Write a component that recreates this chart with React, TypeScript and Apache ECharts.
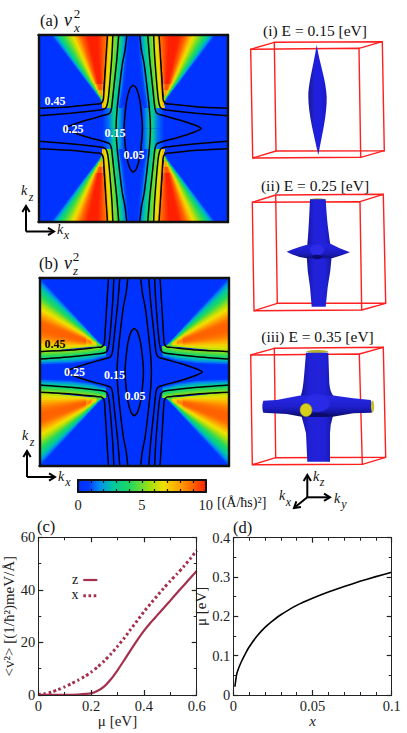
import React, { useEffect, useRef } from "react";
import * as echarts from "echarts";

const SERIF = "'Liberation Serif', serif";

// --- value colour scale (colour bar) ---
const scaleValues = [0, 0.8, 1.7, 2.75, 4.05, 5.6, 6.7, 8, 9.3, 10];
const scaleColors = ["#0030ff", "#0038ff", "#0090f0", "#00c8a0", "#20d860", "#a0e010", "#f0e000", "#ffa000", "#ff5000", "#ff2000"];
const barTicks = ["0", "5", "10"];

// --- iso-energy contours, one quadrant, (|kx|, |kz|) ---
const contour005 = [[0, 0.465], [0.034, 0.43], [0.068, 0.305], [0.09, 0.12], [0.097, 0]];
const contour015 = [[0.068, 1], [0.086, 0.84], [0.114, 0.697], [0.145, 0.447], [0.174, 0.163], [0.181, 0]];
const contour025 = [[0.153, 1], [0.174, 0.733], [0.208, 0.412], [0.229, 0.216], [0.25, 0.163], [0.297, 0.144], [0.489, 0.091], [0.647, 0.037], [0.718, 0]];
const contour035 = [[0.215, 1], [0.226, 0.768], [0.261, 0.34], [0.279, 0.24], [0.303, 0.209], [0.349, 0.198], [0.665, 0.163], [1, 0.137]];
const contour045 = [[0.272, 1], [0.289, 0.733], [0.314, 0.323], [0.324, 0.287], [0.349, 0.265], [0.384, 0.262], [0.665, 0.233], [1, 0.216]];

// --- v^2 intensity ---
const fanA = [8.8, 9, 9.3, 9.6, 9.8, 10, 10, 10, 10, 10, 9.9, 9.6, 9.3, 9, 8.5, 8, 7.4, 6.8, 6.3, 5.8, 5.3, 4.8, 4.4, 4, 3.4, 2.8, 2.2, 1.6, 0.9, 0.3];
const ribbonA = [0.5, 1, 1.6, 2.3, 3, 3.6, 4.2, 4.8, 5.4, 6, 6.8, 7.6];
const ribbonALevels = [1, 0.73, 0.45, 0.3, 0.22];
const ribbonAInner = [0.03, 0.05, 0.08, 0.105, 0.115];
const ribbonAOuter = [0.272, 0.289, 0.305, 0.318, 0.33];
const fanB = [6, 6.5, 7, 7.5, 8, 8.4, 8.7, 8.9, 9, 9, 9, 8.9, 8.6, 8.2, 7.7, 7.2, 6.7, 6.3, 5.8, 5.2, 4.7, 4.2, 3.8, 3.3, 2.8, 2.3, 1.8, 1.3, 0.8, 0.4];
const ribbonB = [0.3, 0.8, 1.4, 2, 2.6, 3.2, 3.8, 4.3, 4.8, 5.3];
const ribbonBLevels = [1, 0.665, 0.45, 0.36, 0.3];
const ribbonBInner = [0.05, 0.06, 0.09, 0.12, 0.13];
const ribbonBOuter = [0.216, 0.233, 0.255, 0.27, 0.275];
const apexFadeReach = [0.26, 0.17, 0.09];
const apexFadeGain = [0.92, 0.78, 0.55];

// --- panel (c), (d) ---
const muZ = [0, 0.05, 0.1, 0.15, 0.2, 0.225, 0.25, 0.275, 0.3, 0.325, 0.35, 0.375, 0.4, 0.425, 0.45, 0.475, 0.5, 0.525, 0.55, 0.575, 0.6];
const v2z = [0.1, 0.1, 0.1, 0.2, 0.6, 1.6, 3.3, 6, 9.4, 13.2, 17.1, 20.9, 24.4, 27.5, 30.3, 33.1, 35.9, 38.8, 41.6, 44.4, 47.2];
const muX = [0, 0.025, 0.05, 0.075, 0.1, 0.125, 0.15, 0.175, 0.2, 0.225, 0.25, 0.275, 0.3, 0.325, 0.35, 0.375, 0.4, 0.425, 0.45, 0.475, 0.5, 0.525, 0.55, 0.575, 0.6];
const v2x = [0.2, 0.5, 1.1, 2, 3.1, 4.3, 5.6, 7, 8.7, 10.7, 13, 15.6, 18.5, 21.6, 25, 28.3, 31.7, 34.7, 37.7, 40.6, 43.4, 46, 48.8, 51.8, 55];
const dopingX = [0.001, 0.002, 0.003, 0.005, 0.0075, 0.01, 0.015, 0.02, 0.025, 0.03, 0.04, 0.05, 0.06, 0.07, 0.08, 0.09, 0.1];
const muD = [0.021, 0.05, 0.064, 0.084, 0.104, 0.122, 0.15, 0.172, 0.189, 0.204, 0.228, 0.246, 0.262, 0.276, 0.289, 0.301, 0.312];

const hex = (c: string) => [1, 3, 5].map((i) => parseInt(c.slice(i, i + 2), 16));
function valueColor(v: number) {
  for (let i = 1; i < scaleValues.length; i++) {
    if (v <= scaleValues[i]) {
      const t = (v - scaleValues[i - 1]) / (scaleValues[i] - scaleValues[i - 1]);
      const a = hex(scaleColors[i - 1]);
      const b = hex(scaleColors[i]);
      return `rgb(${a.map((x, k) => Math.round(x + (b[k] - x) * t)).join(",")})`;
    }
  }
  return scaleColors[scaleColors.length - 1];
}

type Poly = { pts: number[][]; fill: any };
const SIGNS = [[1, 1], [-1, 1], [1, -1], [-1, -1]];

// Each slice reaches under the next one, so neighbouring slices leave no seam.
function fanPolys(apex: number[], rim: number[][], values: number[]): Poly[] {
  const out: Poly[] = [];
  const end = (i: number) => rim[Math.min(i + 2, rim.length - 1)];
  values.forEach((v, i) => out.push({ pts: [apex, rim[i], end(i)], fill: valueColor(v) }));
  apexFadeReach.forEach((f, k) => {
    const at = (p: number[]) => [apex[0] + (p[0] - apex[0]) * f, apex[1] + (p[1] - apex[1]) * f];
    values.forEach((v, i) => out.push({ pts: [apex, at(rim[i]), at(end(i))], fill: valueColor(v * apexFadeGain[k]) }));
  });
  return out;
}

function polysA(): Poly[] {
  const out: Poly[] = [];
  const x0 = 0.272, x1 = 0.893;
  const stops = [[0, 0.3], [0.2, 1.8], [0.35, 3.3], [0.5, 3], [0.7, 1.4], [1, 0]];
  for (const [sx, sy] of SIGNS) {
    const ordered = sx > 0 ? stops : stops.map(([o, v]) => [1 - o, v]).reverse();
    const patch = new echarts.graphic.LinearGradient(0, 0, 1, 0, ordered.map(([o, v]) => ({ offset: o, color: valueColor(v) })));
    out.push({ pts: [[0.09, 0.24], [0.33, 0.24], [0.33, 0], [0.09, 0]].map(([x, y]) => [x * sx, y * sy]), fill: patch });
    const outer = ribbonALevels.map((y, k) => [ribbonAOuter[k] * sx, y * sy]);
    ribbonA.forEach((v, i) => {
      const t = i / ribbonA.length;
      const a = ribbonALevels.map((y, k) => [(ribbonAInner[k] + (ribbonAOuter[k] - ribbonAInner[k]) * t) * sx, y * sy]);
      out.push({ pts: [...a, ...outer.slice().reverse()], fill: valueColor(v) });
    });
    const rim = fanA.map((_, i) => [(x0 + ((x1 - x0) * i) / fanA.length) * sx, sy]);
    rim.push([x1 * sx, sy]);
    out.push(...fanPolys([0.33 * sx, 0.287 * sy], rim, fanA));
  }
  return out;
}

function polysB(): Poly[] {
  const out: Poly[] = [];
  const y0 = 0.216, y1 = 1.05;
  for (const [sx, sy] of SIGNS) {
    const outer = ribbonBLevels.map((x, k) => [x * sx, ribbonBOuter[k] * sy]);
    ribbonB.forEach((v, i) => {
      const t = i / ribbonB.length;
      const a = ribbonBLevels.map((x, k) => [x * sx, (ribbonBInner[k] + (ribbonBOuter[k] - ribbonBInner[k]) * t) * sy]);
      out.push({ pts: [...a, ...outer.slice().reverse()], fill: valueColor(v) });
    });
    const rim = fanB.map((_, i) => [sx, (y0 + ((y1 - y0) * i) / fanB.length) * sy]);
    rim.push([sx, y1 * sy]);
    out.push(...fanPolys([0.335 * sx, 0.28 * sy], rim, fanB));
  }
  return out;
}

const GAP = ["-", "-"];
const mir = (p: number[][], sx: number, sy: number) => p.map(([x, y]) => [x * sx, y * sy]);
const through = (p: number[][], sx: number) => [...mir(p, sx, 1), ...mir(p, sx, -1).reverse().slice(1)];
function contourLines(xi: number) {
  const lens = [...through(contour005, 1), ...through(contour005, -1).reverse().slice(1)];
  const open = [contour015, contour025].flatMap((c) => [...through(c, 1), GAP, ...through(c, -1), GAP]);
  const quad = [contour035, contour045].flatMap((c) => SIGNS.flatMap(([sx, sy]) => [...mir(c, sx, sy), GAP]));
  return [lens, open, quad].map((data) => ({
    type: "line", xAxisIndex: xi, yAxisIndex: xi, data, smooth: 0.2, showSymbol: false, silent: true, z: 3,
    lineStyle: { color: "#000", width: 1.5 },
  }));
}

function polySeries(polys: Poly[], xi: number) {
  return {
    type: "custom", coordinateSystem: "cartesian2d", xAxisIndex: xi, yAxisIndex: xi, clip: true, silent: true, z: 2,
    data: polys.map(() => [0, 0]),
    renderItem: (p: any, api: any) => {
      const poly = polys[p.dataIndex];
      return {
        type: "polygon",
        shape: { points: poly.pts.map((q) => api.coord(q)) },
        style: { fill: poly.fill, stroke: "none" },
      };
    },
  };
}

// --- Fermi surface outlines ---
const shapes: Record<string, string> = {
  fsLens: "M316.7 45 C313 68 308 84 308.3 97 C308.5 115 314 135 318.3 155 C322 135 327 115 326.7 97 C326 80 320 65 316.7 45 Z",
  fsBody2: "M310 199.3 L325.7 199.3 Q327 222 328.6 232 Q330 245 332 252 Q331 270 327.7 287 L325.7 306.7 L311.7 306.7 L310 287 Q307 270 306.5 252 Q308 240 309 220 Z",
  fsArm2: "M286.7 251.7 Q298 247 306 245 L330 243.5 Q340 249 350 252.3 Q340 256 332 258.3 L306.7 258.3 Q296 257 286.7 251.7 Z",
  fsBody3: "M306 352.7 L328.3 352.7 L329.3 383 Q330 392 333.5 396 L332.7 417 Q330 425 330 433.3 L330 461.7 L307.3 461.7 L306 433.3 Q304 425 301.7 417 L301 395 Q303 390 304.3 373.3 Z",
  fsArm3: "M263.3 400.7 L276.7 400 L300 395.5 L333.3 395.5 L353.3 398.3 L370.7 400 Q373.5 406.7 371.7 412.7 L353.3 413.3 L332.7 416.7 L301.7 416.7 L286.7 414 L263.3 412.7 Q261.3 406.7 263.3 400.7 Z",
};
Object.entries(shapes).forEach(([k, d]) => echarts.graphic.registerShape(k, echarts.graphic.extendPath(d, {})));

const RED = "#ff1f1f";
function box(front: number[][], back: number[][]) {
  const s = { fill: "none", stroke: RED, lineWidth: 1.4 };
  return [
    { type: "polygon", shape: { points: back }, style: s },
    { type: "polygon", shape: { points: front }, style: s },
    ...front.map((p, i) => ({ type: "line", shape: { x1: p[0], y1: p[1], x2: back[i][0], y2: back[i][1] }, style: s })),
  ];
}

function txt(text: string, x: number, y: number, size: number, extra: any = {}) {
  const { fill, weight, italic, align } = extra;
  return {
    type: "text", x, y, z: 20,
    style: {
      text, fill: fill || "#111", textAlign: align || "center", textVerticalAlign: "middle",
      font: `${italic ? "italic " : ""}${weight || "normal"} ${size}px ${SERIF}`,
    },
  };
}

function arrow(x1: number, y1: number, x2: number, y2: number) {
  const a = Math.atan2(y2 - y1, x2 - x1), L = 7, w = 0.55;
  const s = { stroke: "#000", lineWidth: 2, fill: "none" };
  return [
    { type: "line", z: 20, shape: { x1, y1, x2, y2 }, style: s },
    {
      type: "polyline", z: 20,
      shape: { points: [[x2 - L * Math.cos(a - w), y2 - L * Math.sin(a - w)], [x2, y2], [x2 - L * Math.cos(a + w), y2 - L * Math.sin(a + w)]] },
      style: s,
    },
  ];
}

function gradH(stops: string[]) {
  return new echarts.graphic.LinearGradient(0, 0, 1, 0, stops.map((color, i) => ({ offset: i / (stops.length - 1), color })));
}
function gradV(stops: string[]) {
  return new echarts.graphic.LinearGradient(0, 0, 0, 1, stops.map((color, i) => ({ offset: i / (stops.length - 1), color })));
}

const WINE = "#a5304e";

function graphics() {
  const bodyFill = () => gradH(["#14149c", "#2020d4", "#2222dc", "#2020d4", "#16169e"]);
  const els: any[] = [
    // panel labels
    txt("(a)", 40, 20, 16.5, { align: "left" }), txt("v", 68, 20, 18, { italic: true }), txt("2", 77, 13, 13), txt("x", 77, 27, 13, { italic: true }),
    txt("(b)", 39, 263, 16.5, { align: "left" }), txt("v", 68, 263, 18, { italic: true }), txt("2", 76, 256.5, 13), txt("z", 75.5, 270.5, 13, { italic: true }),
    txt("(c)", 37, 526, 16.5, { align: "left" }), txt("(d)", 233, 527, 16.5, { align: "left" }),
    // legend of (c)
    txt("z", 75, 579, 14), txt("x", 75, 594, 14),
    { type: "line", z: 20, shape: { x1: 83.3, y1: 580, x2: 97.3, y2: 580 }, style: { stroke: WINE, lineWidth: 2.2 } },
    { type: "line", z: 20, shape: { x1: 83.3, y1: 595.7, x2: 97.3, y2: 595.7 }, style: { stroke: WINE, lineWidth: 3, lineDash: [2.6, 2.6] } },
    // contour labels
    txt("0.45", 55, 101, 12, { fill: "#fff", weight: "bold" }), txt("0.25", 73, 128.5, 12, { fill: "#fff", weight: "bold" }),
    txt("0.15", 115, 132.5, 12, { fill: "#fff", weight: "bold" }), txt("0.05", 134, 155, 12, { fill: "#fff", weight: "bold" }),
    txt("0.45", 55, 344, 12, { fill: "#000", weight: "bold" }), txt("0.25", 74.5, 371.5, 12, { fill: "#fff", weight: "bold" }),
    txt("0.15", 114.5, 375, 12, { fill: "#fff", weight: "bold" }), txt("0.05", 135, 396, 12, { fill: "#fff", weight: "bold" }),
    // in-plane axes
    ...arrow(26, 231.5, 26, 206), ...arrow(26, 231.5, 54, 231.5),
    txt("k", 24, 190, 14, { italic: true }), txt("z", 31, 197, 12, { italic: true }), txt("k", 60, 229, 14, { italic: true }), txt("x", 66.5, 235, 12, { italic: true }),
    ...arrow(27, 477, 27, 451), ...arrow(27, 477, 55, 477),
    txt("k", 25, 435, 14, { italic: true }), txt("z", 32, 442, 12, { italic: true }), txt("k", 61, 476, 14, { italic: true }), txt("x", 68, 482, 12, { italic: true }),
    // colour bar unit
    txt("[(Å/ħs)²]", 217, 502, 14, { align: "left" }),
    // right column titles
    txt("(i) E = 0.15 [eV]", 315, 30, 15.5), txt("(ii) E = 0.25 [eV]", 315, 185, 15.5), txt("(iii) E = 0.35 [eV]", 317.5, 336.7, 15.5),
    // boxes
    ...box([[250.7, 49.3], [359, 48.3], [360.7, 157.3], [252.7, 158]], [[274.3, 42.3], [382.3, 41.7], [384.3, 150.7], [276, 151]]),
    ...box([[252.3, 202.3], [360, 201.7], [361.7, 310], [254, 310.7]], [[275.7, 195], [383.3, 194.3], [385.7, 303.3], [277.3, 303.3]]),
    ...box([[250.7, 355], [359.3, 354], [362.3, 464.3], [252.3, 464.7]], [[274.3, 348.3], [383.3, 347.3], [385.7, 457.3], [275.7, 457.7]]),
    // (i)
    { type: "fsLens", z: 10, style: { fill: gradH(["#1a1a90", "#2020d8", "#1e1ee0", "#1a1ac0"]) } },
    // (ii)
    { type: "ellipse", z: 10, shape: { cx: 317.8, cy: 199.6, rx: 7.5, ry: 1.2 }, style: { fill: "#8a8a20" } },
    { type: "fsBody2", z: 10, style: { fill: bodyFill() } },
    { type: "fsArm2", z: 11, style: { fill: gradV(["#2424e0", "#2020d4", "#1c1cc0", "#10107a"]) } },
    { type: "ellipse", z: 12, shape: { cx: 317, cy: 250, rx: 7, ry: 5.5 }, style: { fill: "#2c2ce8" } },
    { type: "ellipse", z: 12, shape: { cx: 317, cy: 257, rx: 5, ry: 2.2 }, style: { fill: "#0c0c70" } },
    // (iii)
    { type: "ellipse", z: 10, shape: { cx: 317.2, cy: 351.5, rx: 11, ry: 1.6 }, style: { fill: "#b8b030" } },
    { type: "fsBody3", z: 10, style: { fill: bodyFill() } },
    { type: "fsArm3", z: 11, style: { fill: gradV(["#2626e0", "#2222d8", "#2020d0", "#1616a8", "#0a0a60"]) } },
    { type: "ellipse", z: 12, shape: { cx: 372.6, cy: 406.5, rx: 1.6, ry: 6 }, style: { fill: "#c8c020" } },
    { type: "ellipse", z: 12, shape: { cx: 317, cy: 403, rx: 13, ry: 9 }, style: { fill: "#2a2ae6" } },
    { type: "ellipse", z: 12, shape: { cx: 317, cy: 415, rx: 12, ry: 2 }, style: { fill: "#0c0c68" } },
    { type: "ellipse", z: 13, shape: { cx: 306, cy: 410, rx: 6, ry: 6.6 }, style: { fill: "#d8d018", stroke: "#8a8a30", lineWidth: 0.6 } },
    // 3D triad
    ...arrow(307.3, 497.3, 307.3, 475), ...arrow(307.3, 497.3, 330, 497.3), ...arrow(307.3, 497.3, 294, 508),
    txt("k", 316, 476, 14, { italic: true }), txt("z", 322, 482, 12, { italic: true }),
    txt("k", 337, 498, 14, { italic: true }), txt("y", 344, 504, 12, { italic: true }),
    txt("k", 282, 495, 14, { italic: true }), txt("x", 288.5, 502, 12, { italic: true }),
  ];
  return els;
}

const DARK = "#222";
const labelStyle = { fontFamily: SERIF, fontSize: 14.5, color: "#222" };
function frameAxis(grid: number, position: string, width = 2.4) {
  return {
    gridIndex: grid, type: "value", position, min: -1, max: 1, z: 6,
    axisLine: { show: true, onZero: false, lineStyle: { color: "#111", width } },
    axisTick: { show: false }, axisLabel: { show: false }, splitLine: { show: false },
  };
}
function plotAxis(grid: number, position: string, min: number, max: number, interval: number, minorSplit: number, labelled: boolean, extra: any = {}) {
  return {
    gridIndex: grid, type: "value", position, min, max, interval, z: 6,
    axisLine: { show: true, onZero: false, lineStyle: { color: DARK, width: 1 } },
    axisTick: { show: true, inside: true, length: 5, lineStyle: { color: DARK, width: 1.2 } },
    minorTick: { show: true, splitNumber: minorSplit, length: 3, lineStyle: { color: DARK, width: 1 } },
    axisLabel: { show: labelled, margin: 3, ...labelStyle },
    splitLine: { show: false }, minorSplitLine: { show: false },
    ...extra,
  };
}

export default function App() {
  const ref = useRef<HTMLDivElement>(null);
  useEffect(() => {
    document.body.style.margin = "0";
    const chart = echarts.init(ref.current!, undefined, { renderer: "svg" });
    const name = { fontFamily: SERIF, fontSize: 15, color: "#222" };
    const barAxis = (position: string) => ({
      gridIndex: 2, type: "value", position, min: 0, max: 10, interval: 1, z: 6,
      axisLine: { show: true, onZero: false, lineStyle: { color: "#111", width: 2 } },
      axisTick: { show: true, inside: true, length: 3, lineStyle: { color: "#111", width: 1.2 } },
      axisLabel: {
        show: position === "bottom", margin: 5, ...labelStyle,
        formatter: (v: number) => (barTicks.includes(String(v)) ? String(v) : ""),
      },
      splitLine: { show: false },
    });
    const barY = (position: string) => ({
      gridIndex: 2, type: "value", position, min: 0, max: 1, z: 6,
      axisLine: { show: true, onZero: false, lineStyle: { color: "#111", width: 2 } },
      axisTick: { show: false }, axisLabel: { show: false }, splitLine: { show: false },
    });
    chart.setOption({
      animation: false,
      backgroundColor: "#fff",
      grid: [
        { left: 38.5, top: 35, width: 189.5, height: 187, show: true, backgroundColor: "#0033ff", borderWidth: 0 },
        { left: 39.5, top: 278, width: 189.5, height: 188, show: true, backgroundColor: "#0033ff", borderWidth: 0 },
        { left: 78, top: 480, width: 127.7, height: 12 },
        { left: 38.3, top: 537.3, width: 158.4, height: 157.7 },
        { left: 233.3, top: 537.7, width: 158.4, height: 157.3 },
      ],
      xAxis: [
        frameAxis(0, "bottom"), frameAxis(0, "top"), frameAxis(1, "bottom"), frameAxis(1, "top"),
        barAxis("bottom"), barAxis("top"),
        plotAxis(3, "bottom", 0, 0.6, 0.2, 2, true, {
          name: "μ [eV]", nameLocation: "middle", nameGap: 16, nameTextStyle: name,
        }),
        plotAxis(3, "top", 0, 0.6, 0.2, 2, false),
        plotAxis(4, "bottom", 0, 0.1, 0.05, 5, true, {
          name: "x", nameLocation: "middle", nameGap: 16, nameTextStyle: { ...name, fontStyle: "italic", fontSize: 15 },
        }),
        plotAxis(4, "top", 0, 0.1, 0.05, 5, false),
      ],
      yAxis: [
        frameAxis(0, "left"), frameAxis(0, "right"), frameAxis(1, "left"), frameAxis(1, "right"),
        barY("left"), barY("right"),
        plotAxis(3, "left", 0, 60, 20, 2, true, {
          name: "<v²> [(1/ħ²)meV/Å]", nameLocation: "middle", nameGap: 15, nameTextStyle: { ...name, fontSize: 15 },
        }),
        plotAxis(3, "right", 0, 60, 20, 2, false),
        plotAxis(4, "left", 0, 0.4, 0.1, 2, true, {
          name: "μ [eV]", nameLocation: "middle", nameGap: 12, nameTextStyle: { ...name, padding: [0, 0, 0, 20] },
        }),
        plotAxis(4, "right", 0, 0.4, 0.1, 2, false),
      ],
      series: [
        polySeries(polysA(), 0),
        ...contourLines(0),
        polySeries(polysB(), 2),
        ...contourLines(2),
        {
          type: "custom", coordinateSystem: "cartesian2d", xAxisIndex: 4, yAxisIndex: 4, silent: true, z: 2,
          data: [[0, 0]],
          renderItem: (_: any, api: any) => {
            const a = api.coord([0, 1]);
            const b = api.coord([10, 0]);
            return {
              type: "rect", shape: { x: a[0], y: a[1], width: b[0] - a[0], height: b[1] - a[1] },
              style: {
                fill: new echarts.graphic.LinearGradient(0, 0, 1, 0, scaleValues.map((v, i) => ({ offset: v / 10, color: scaleColors[i] }))),
              },
            };
          },
        },
        {
          name: "z", type: "line", xAxisIndex: 6, yAxisIndex: 6, data: muZ.map((m, i) => [m, v2z[i]]), smooth: 0.2, showSymbol: false,
          lineStyle: { color: WINE, width: 2.2 },
        },
        {
          name: "x", type: "line", xAxisIndex: 6, yAxisIndex: 6, data: muX.map((m, i) => [m, v2x[i]]), smooth: 0.2, showSymbol: false,
          lineStyle: { color: WINE, width: 3, type: [2.6, 2.6] },
        },
        {
          type: "line", xAxisIndex: 8, yAxisIndex: 8, data: dopingX.map((x, i) => [x, muD[i]]), smooth: 0.1, showSymbol: false,
          lineStyle: { color: "#000", width: 1.6 },
        },
      ],
      graphic: { elements: graphics() },
    });
    return () => chart.dispose();
  }, []);
  return <div ref={ref} style={{ position: "absolute", left: 0, top: 0, width: 407, height: 733 }} />;
}
